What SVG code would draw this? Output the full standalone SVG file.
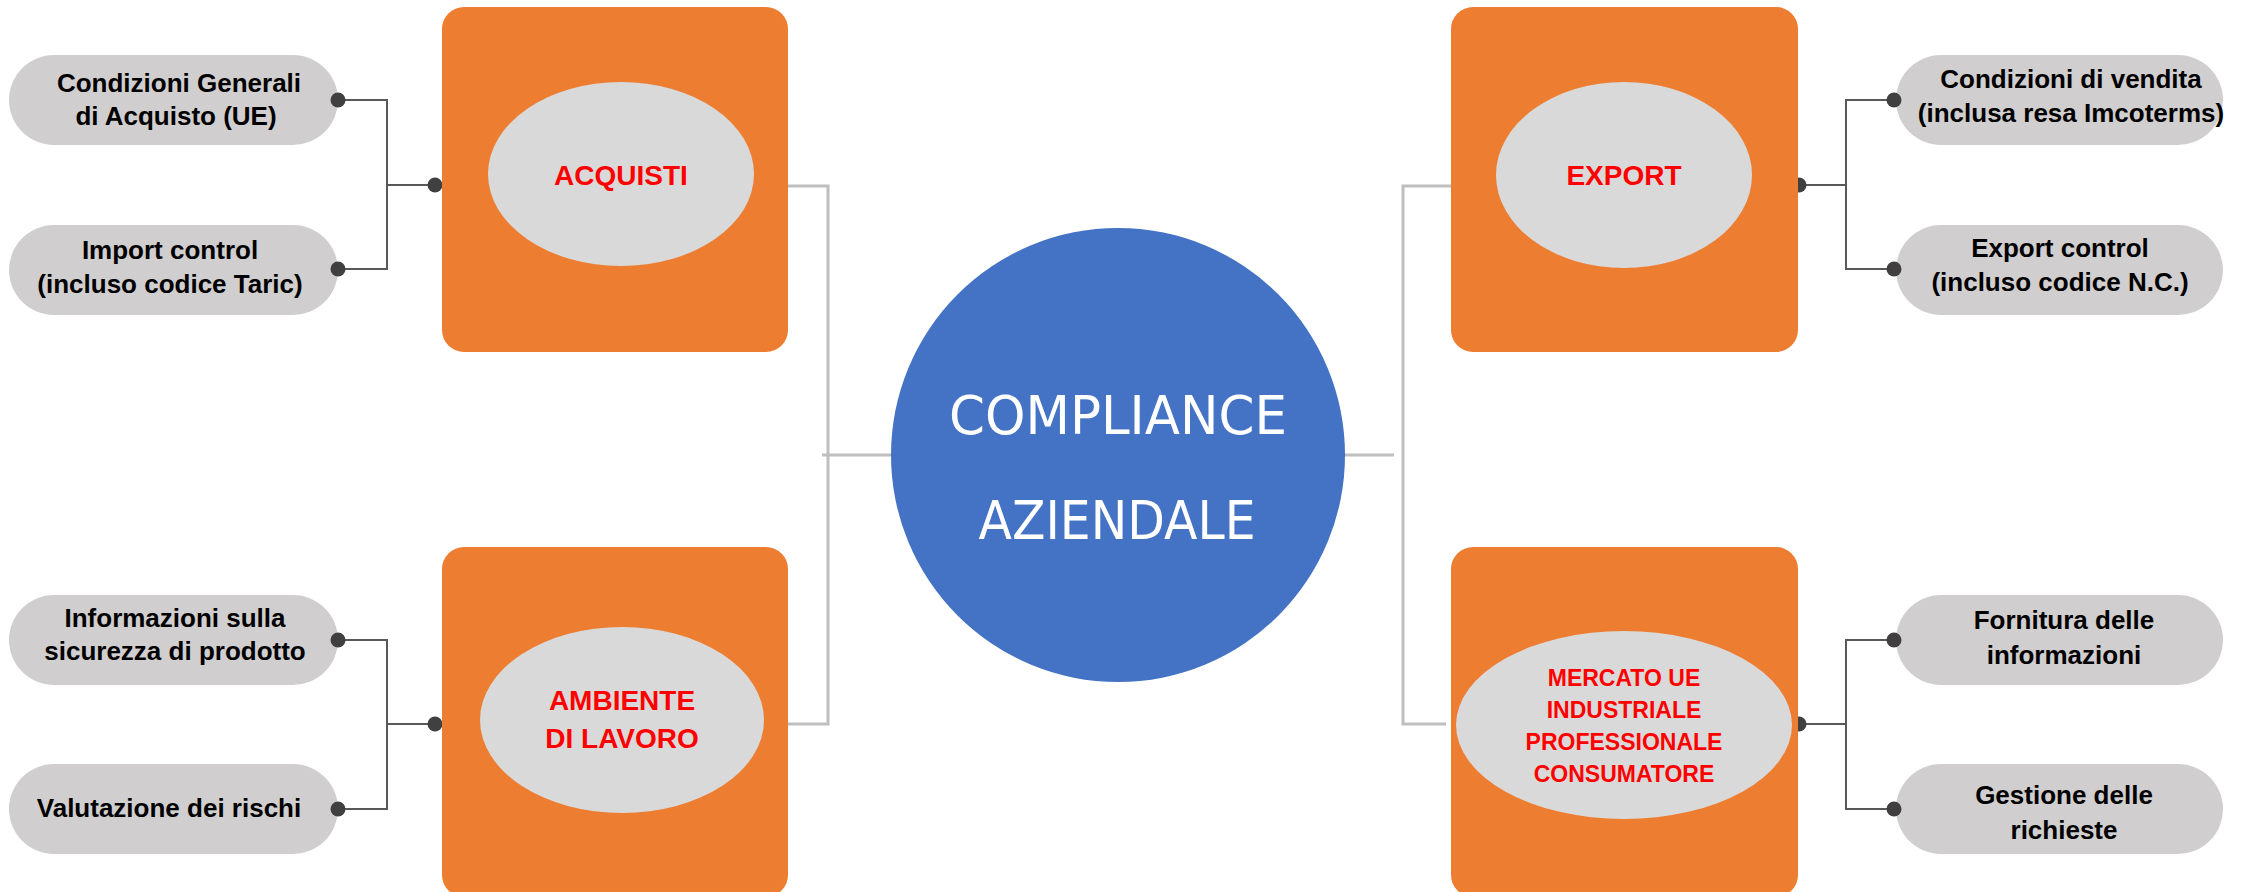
<svg xmlns="http://www.w3.org/2000/svg" width="2252" height="892" viewBox="0 0 2252 892">
<style>
.box{fill:#ed7d31}
.ell{fill:#d9d9d9}
.pill{fill:#d0cece}
.pt{font-family:"Liberation Sans",Arial,sans-serif;font-weight:bold;font-size:26px;fill:#000;text-anchor:middle}
.rt{font-family:"Liberation Sans",Arial,sans-serif;font-weight:bold;font-size:28px;fill:#ff0000;text-anchor:middle}
.rs{font-size:23px}
.ct{font-family:"DejaVu Sans",Tahoma,sans-serif;font-size:53px;fill:#fff;text-anchor:middle}
.dl{fill:none;stroke:#595959;stroke-width:2}
.gl{fill:none;stroke:#bfbfbf;stroke-width:3}
.dot{fill:#404040}
</style>
<rect width="2252" height="892" fill="#fff"/>
<g id="connectors">
<path class="gl" d="M788,186 H828 V724 H788 M822,455 H892"/>
<path class="gl" d="M1451,186 H1403 V724 H1446 M1345,455 H1394"/>
<path class="dl" d="M338,100 H387 V269 H338 M387,185 H437"/>
<path class="dl" d="M338,640 H387 V809 H338 M387,724 H437"/>
<path class="dl" d="M1894,100 H1846 V269 H1894 M1846,185 H1798"/>
<path class="dl" d="M1894,640 H1846 V809 H1894 M1846,724 H1798"/>
<circle class="dot" cx="435" cy="185" r="7.5"/>
<circle class="dot" cx="435" cy="724" r="7.5"/>
<circle class="dot" cx="1799" cy="185" r="7.5"/>
<circle class="dot" cx="1799" cy="724" r="7.5"/>
</g>
<g id="center">
<circle cx="1118" cy="455" r="227" fill="#4472c4"/>
<text class="ct" x="1118" y="434" textLength="338" lengthAdjust="spacingAndGlyphs">COMPLIANCE</text>
<text class="ct" x="1117" y="539" textLength="277" lengthAdjust="spacingAndGlyphs">AZIENDALE</text>
</g>
<g id="acquisti">
<rect class="box" x="442" y="7" width="346" height="345" rx="22"/>
<ellipse class="ell" cx="621" cy="174" rx="133" ry="92"/>
<text class="rt" x="621" y="185">ACQUISTI</text>
</g>
<g id="ambiente">
<rect class="box" x="442" y="547" width="346" height="350" rx="22"/>
<ellipse class="ell" cx="622" cy="720" rx="142" ry="93"/>
<text class="rt" x="622" y="710" font-size="27">AMBIENTE</text>
<text class="rt" x="622" y="748" font-size="27">DI LAVORO</text>
</g>
<g id="export">
<rect class="box" x="1451" y="7" width="347" height="345" rx="22"/>
<ellipse class="ell" cx="1624" cy="175" rx="128" ry="93"/>
<text class="rt" x="1624" y="185">EXPORT</text>
</g>
<g id="mercato">
<rect class="box" x="1451" y="547" width="347" height="350" rx="22"/>
<ellipse class="ell" cx="1624" cy="725" rx="168" ry="94"/>
<text class="rt rs" x="1624" y="686">MERCATO UE</text>
<text class="rt rs" x="1624" y="718">INDUSTRIALE</text>
<text class="rt rs" x="1624" y="750">PROFESSIONALE</text>
<text class="rt rs" x="1624" y="782">CONSUMATORE</text>
</g>
<g id="p-condizioni-acquisto">
<rect class="pill" x="9" y="55" width="329" height="90" rx="45"/>
<text class="pt" x="179" y="92">Condizioni Generali</text>
<text class="pt" x="176" y="125">di Acquisto (UE)</text>
</g>
<g id="p-import">
<rect class="pill" x="9" y="225" width="329" height="90" rx="45"/>
<text class="pt" x="170" y="259">Import control</text>
<text class="pt" x="170" y="293">(incluso codice Taric)</text>
</g>
<g id="p-informazioni">
<rect class="pill" x="9" y="595" width="329" height="90" rx="45"/>
<text class="pt" x="175" y="627">Informazioni sulla</text>
<text class="pt" x="175" y="660">sicurezza di prodotto</text>
</g>
<g id="p-valutazione">
<rect class="pill" x="9" y="764" width="329" height="90" rx="45"/>
<text class="pt" x="169" y="817">Valutazione dei rischi</text>
</g>
<g id="p-vendita">
<rect class="pill" x="1896" y="55" width="327" height="90" rx="45"/>
<text class="pt" x="2071" y="88">Condizioni di vendita</text>
<text class="pt" x="2071" y="122">(inclusa resa Imcoterms)</text>
</g>
<g id="p-export-control">
<rect class="pill" x="1896" y="225" width="327" height="90" rx="45"/>
<text class="pt" x="2060" y="257">Export control</text>
<text class="pt" x="2060" y="291">(incluso codice N.C.)</text>
</g>
<g id="p-fornitura">
<rect class="pill" x="1896" y="595" width="327" height="90" rx="45"/>
<text class="pt" x="2064" y="629">Fornitura delle</text>
<text class="pt" x="2064" y="664">informazioni</text>
</g>
<g id="p-gestione">
<rect class="pill" x="1896" y="764" width="327" height="90" rx="45"/>
<text class="pt" x="2064" y="804">Gestione delle</text>
<text class="pt" x="2064" y="839">richieste</text>
</g>
<g id="pill-dots">
<circle class="dot" cx="338" cy="100" r="7.5"/>
<circle class="dot" cx="338" cy="269" r="7.5"/>
<circle class="dot" cx="338" cy="640" r="7.5"/>
<circle class="dot" cx="338" cy="809" r="7.5"/>
<circle class="dot" cx="1894" cy="100" r="7.5"/>
<circle class="dot" cx="1894" cy="269" r="7.5"/>
<circle class="dot" cx="1894" cy="640" r="7.5"/>
<circle class="dot" cx="1894" cy="809" r="7.5"/>
</g>
</svg>
